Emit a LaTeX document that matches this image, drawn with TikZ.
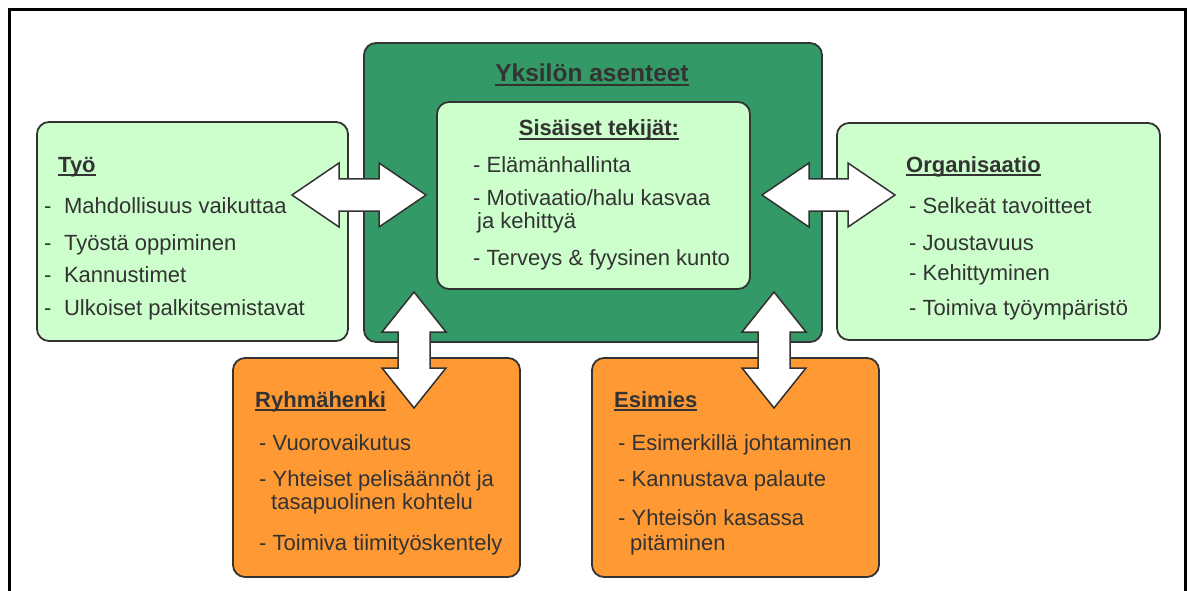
\documentclass[tikz,border=0pt]{standalone}
\usepackage{fontspec}
\setmainfont{Liberation Sans}
\usetikzlibrary{calc}

\definecolor{lightgreen}{HTML}{CCFFCC}
\definecolor{darkgreen}{HTML}{339966}
\definecolor{boxorange}{HTML}{FF9933}
\definecolor{edgegray}{HTML}{333333}

% underlined title
\newcommand{\ulbox}[1]{\setbox0=\hbox{#1}\leavevmode\rlap{\vrule width\wd0 height -2.2pt depth 3.8pt}\box0}
% wide dash used in the Tyo box
\newcommand{\widedash}{-\hspace{12.5pt}}

% fat double arrows between two tips
\newcommand{\fatharrow}[2]{%
  \draw[fat] (#1) -- ++(47,-32) -- ++(0,16) -- ($(#2)+(-47,-16)$) -- ++(0,-16) -- (#2)
    -- ++(-47,32) -- ++(0,-16) -- ($(#1)+(47,16)$) -- ++(0,16) -- cycle;}
\newcommand{\fatvarrow}[2]{%
  \draw[fat] (#1) -- ++(32,40) -- ++(-16,0) -- ($(#2)+(16,-40)$) -- ++(16,0) -- (#2)
    -- ++(-32,-40) -- ++(16,0) -- ($(#1)+(-16,40)$) -- ++(-16,0) -- cycle;}

\tikzset{
  box/.style={draw=edgegray, line width=1.8pt, rounded corners=12pt, inner sep=0pt},
  txt/.style={anchor=base west, inner sep=0pt, text=edgegray, font=\fontsize{22}{26}\selectfont},
  ttl/.style={txt, font=\fontsize{22}{26}\selectfont\bfseries},
  fat/.style={draw=edgegray, line width=1.5pt, fill=white, line join=miter},
}

\begin{document}
\begin{tikzpicture}[x=1pt, y=-1pt]
  \useasboundingbox (0,0) rectangle (1192,591);

  % Frame
  \draw[line width=3pt] (9.5,591) -- (9.5,9.5) -- (1185,9.5) -- (1185,591);

  % Boxes
  \node[box, fill=lightgreen, minimum width=311pt, minimum height=219pt] (tyo) at (192.5,231.5) {};
  \node[box, fill=lightgreen, minimum width=323pt, minimum height=217pt] (org) at (998.5,231.5) {};
  \node[box, fill=darkgreen, minimum width=458pt, minimum height=299pt] (yksilo) at (593,192.5) {};
  \node[box, fill=lightgreen, minimum width=313pt, minimum height=187pt] (sisaiset) at (593.5,195.5) {};
  \node[box, fill=boxorange, minimum width=287pt, minimum height=219pt] (ryhma) at (376.5,467.5) {};
  \node[box, fill=boxorange, minimum width=287pt, minimum height=219pt] (esimies) at (735.5,467.5) {};

  % Arrows
  \coordinate (tyoTip) at (292,195);
  \coordinate (yksL) at (426,195);
  \coordinate (yksR) at (762,195);
  \coordinate (orgTip) at (895,195);
  \coordinate (yksBL) at (414,292);
  \coordinate (ryhTip) at (414,408);
  \coordinate (yksBR) at (774,292);
  \coordinate (esiTip) at (774,408);
  \fatharrow{tyoTip}{yksL}
  \fatharrow{yksR}{orgTip}
  \fatvarrow{yksBL}{ryhTip}
  \fatvarrow{yksBR}{esiTip}

  % Titles
  \node[ttl, anchor=base, font=\fontsize{24.5}{28}\selectfont\bfseries] (yksT) at (592,82) {\ulbox{Yksilön asenteet}};
  \node[ttl, anchor=base] (sisT) at (599,136) {\ulbox{Sisäiset tekijät:}};
  \node[ttl] (tyoT) at (58,172) {\ulbox{Työ}};
  \node[ttl] (orgT) at (906,172) {\ulbox{Organisaatio}};
  \node[ttl] (ryhT) at (255,407) {\ulbox{Ryhmähenki}};
  \node[ttl] (esiT) at (614,407) {\ulbox{Esimies}};

  % Items
  \foreach \xx/\yy/\txt [count=\i] in {44/213/{\widedash Mahdollisuus vaikuttaa}, 44/250/{\widedash Työstä oppiminen},
      44/282/{\widedash Kannustimet}, 44/315/{\widedash Ulkoiset palkitsemistavat}}
    \node[txt] (tyo\i) at (\xx,\yy) {\txt};
  \foreach \xx/\yy/\txt [count=\i] in {473/173/{- Elämänhallinta}, 473/205/{- Motivaatio/halu kasvaa},
      477/228/{ja kehittyä}, 473/265/{- Terveys \& fyysinen kunto}}
    \node[txt] (sis\i) at (\xx,\yy) {\txt};
  \foreach \xx/\yy/\txt [count=\i] in {909/213/{- Selkeät tavoitteet}, 909/250/{- Joustavuus},
      909/280/{- Kehittyminen}, 909/315/{- Toimiva työympäristö}}
    \node[txt] (org\i) at (\xx,\yy) {\txt};
  \foreach \xx/\yy/\txt [count=\i] in {259/450/{- Vuorovaikutus}, 259/486/{- Yhteiset pelisäännöt ja},
      271/509/{tasapuolinen kohtelu}, 259/550/{- Toimiva tiimityöskentely}}
    \node[txt] (ryh\i) at (\xx,\yy) {\txt};
  \foreach \xx/\yy/\txt [count=\i] in {618/450/{- Esimerkillä johtaminen}, 618/486/{- Kannustava palaute},
      618/525/{- Yhteisön kasassa}, 630/550/{pitäminen}}
    \node[txt] (esi\i) at (\xx,\yy) {\txt};
\end{tikzpicture}
\end{document}
